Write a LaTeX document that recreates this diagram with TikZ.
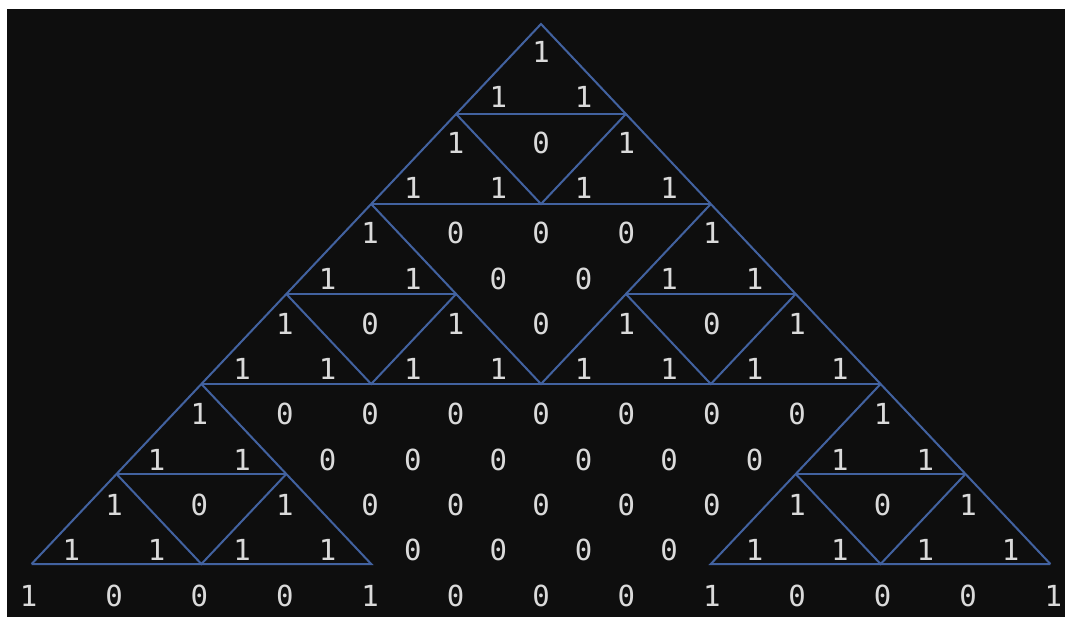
\documentclass[tikz,border=0pt]{standalone}
\usepackage{fontspec}
\newfontfamily\bitfont{DejaVu Sans Mono}
\definecolor{termbg}{HTML}{0E0E0E}\definecolor{termfg}{HTML}{DADADA}\definecolor{edgeblue}{HTML}{4262A0}
\begin{document}
\begin{tikzpicture}[x=1pt,y=-1pt,bit/.style={text=termfg,font=\bitfont\fontsize{29}{29}\selectfont,inner sep=0pt},tri/.style={edgeblue,line width=2pt}]
\useasboundingbox(0,0)rectangle(1065,621);
\fill[white](0,0)rectangle(1065,621);\fill[termbg](7,9)rectangle(1065,617);
% corners of the triangles, level k, place j
\foreach\k in{0,...,6}{\foreach\j in{0,...,\k}{\coordinate(c\k-\j)at({541+(2*\j-\k)*84.9},{24+90*\k});}}
\draw[tri](c6-0)--(c0-0)--(c6-6);
\draw[tri](c1-0)--(c1-1);\draw[tri](c2-0)--(c2-2);\draw[tri](c1-0)--(c2-1)--(c1-1);
\draw[tri](c3-0)--(c3-1);\draw[tri](c3-2)--(c3-3);\draw[tri](c2-0)--(c4-2)--(c2-2);
\draw[tri](c3-0)--(c4-1)--(c3-1);\draw[tri](c3-2)--(c4-3)--(c3-3);
\draw[tri](c4-0)--(c4-4);
\draw[tri](c5-0)--(c5-1);\draw[tri](c5-0)--(c6-1)--(c5-1);\draw[tri](c4-0)--(c6-2)--(c6-0);
\draw[tri](c5-4)--(c5-5);\draw[tri](c5-4)--(c6-5)--(c5-5);\draw[tri](c4-4)--(c6-4)--(c6-6);
% the rows of bits
\foreach\vals[count=\r from 0]in{{1},{1,1},{1,0,1},{1,1,1,1},{1,0,0,0,1},{1,1,0,0,1,1},{1,0,1,0,1,0,1},{1,1,1,1,1,1,1,1},{1,0,0,0,0,0,0,0,1},{1,1,0,0,0,0,0,0,1,1},{1,0,1,0,0,0,0,0,1,0,1},{1,1,1,1,0,0,0,0,1,1,1,1},{1,0,0,0,1,0,0,0,1,0,0,0,1}}{
\foreach\v[count=\i from 0]in\vals{\node[bit](d\r-\i)at({541+(2*\i-\r)*42.7},{52+45.3*\r}){\v};}}
\end{tikzpicture}
\end{document}
